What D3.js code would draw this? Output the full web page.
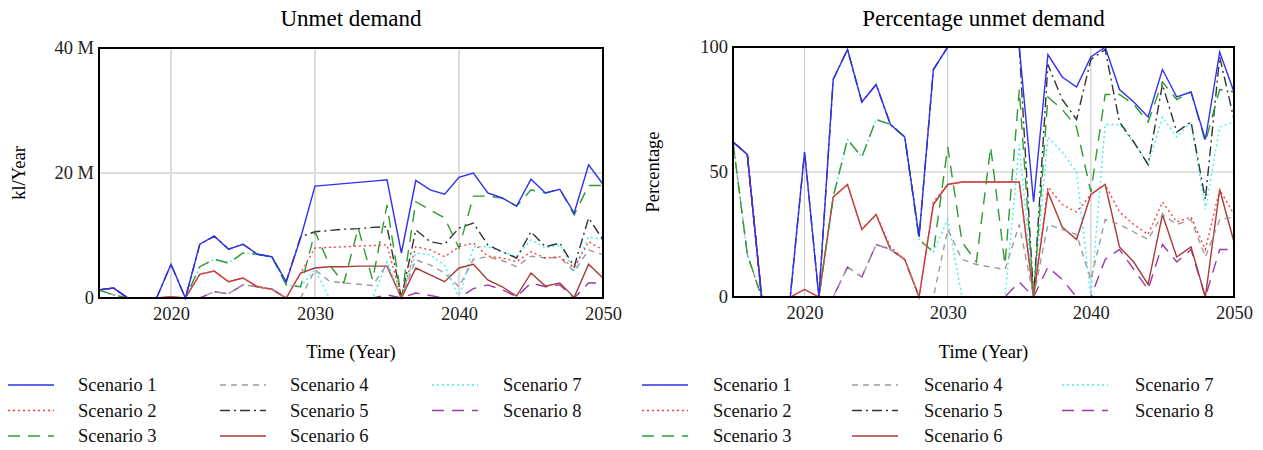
<!DOCTYPE html>
<html>
<head>
<meta charset="utf-8">
<script src="https://cdn.jsdelivr.net/npm/d3@7"></script>
<style>
  body { margin: 0; background: #fff; }
  svg { display: block; }
  svg text { font-family: "Liberation Serif", "Times New Roman", serif; }
</style>
</head>
<body>
<div id="chart"></div>
<script>
var years = [2015, 2016, 2017, 2018, 2019, 2020, 2021, 2022, 2023, 2024, 2025, 2026,
             2027, 2028, 2029, 2030, 2031, 2032, 2033, 2034, 2035, 2036, 2037, 2038,
             2039, 2040, 2041, 2042, 2043, 2044, 2045, 2046, 2047, 2048, 2049, 2050];

var scenarios = ['Scenario 1', 'Scenario 2', 'Scenario 3', 'Scenario 4',
                 'Scenario 5', 'Scenario 6', 'Scenario 7', 'Scenario 8'];

// unmet demand, million kl/Year
var unmet1 = [1.3,1.6,0,0,0,5.4,0,8.6,9.9,7.8,8.6,7.0,6.6,2.6,9.6,17.9,18.1,18.3,18.5,18.7,18.9,7.2,18.8,17.3,16.6,19.3,20.0,16.8,16.0,14.7,19.0,16.8,17.4,13.6,21.3,18.2];
var unmet2 = [1.3,1.6,0,0,0,0.2,0,3.8,4.3,2.6,3.2,1.8,1.4,0,4.0,8.0,8.1,8.2,8.3,8.4,8.5,0,8.2,7.7,6.6,8.2,8.8,6.7,6.4,5.8,7.4,6.4,6.6,4.8,9.0,7.7];
var unmet3 = [1.3,0.5,0,0,0,0,0,5.0,6.2,5.6,7.2,7.0,6.6,2.1,1.8,10.6,5.3,2.4,11.2,2.9,14.9,0,15.4,14.1,12.8,8.0,16.3,16.3,16.0,14.7,17.3,16.8,17.4,13.3,18.0,18.0];
var unmet4 = [1.3,0.5,0,0,0,0,0,0,1.0,0.7,2.1,1.8,1.4,0,0,4.5,2.7,2.4,2.2,2.0,5.4,0,6.1,5.3,4.0,1.8,6.2,6.6,6.0,5.0,6.7,6.4,6.5,4.2,7.7,6.9];
var unmet5 = [1.3,1.6,0,0,0,5.4,0,8.6,9.9,7.8,8.6,7.0,6.6,2.6,9.8,10.6,10.8,11.0,11.1,11.3,11.4,0,10.9,9.0,8.6,11.2,12.0,8.5,7.4,6.4,10.6,8.2,8.8,5.0,12.8,9.3];
var unmet6 = [1.3,1.6,0,0,0,0.2,0,3.8,4.3,2.6,3.2,1.8,1.4,0,4.0,4.8,5.0,5.0,5.1,5.1,5.1,0,4.8,3.7,2.6,4.8,5.4,2.9,1.8,0.3,4.0,1.9,2.4,0.1,5.4,3.2];
var unmet7 = [1.3,0.5,0,0,0,0,0,5.0,6.2,5.6,7.2,7.0,6.6,2.1,1.8,4.5,0,0,0,0,5.8,0,7.2,6.9,5.3,0,8.2,8.2,7.4,6.6,9.3,8.0,8.5,4.5,9.8,9.3];
var unmet8 = [1.3,1.6,0,0,0,0,0,0,1.0,0.7,2.1,1.8,1.4,0,0,0,0,0,0,0,0.5,0,0.8,0.4,0,0,1.5,2.1,1.3,0.2,2.4,1.8,2.1,0,2.4,2.4];

// percentage unmet demand
var pct1 = [62,57,0,0,0,58,0,87,99,78,85,69,64,24,91,100,100,100,100,100,100,38,97,88,84,96,100,83,78,72,91,80,82,63,98,82];
var pct2 = [62,57,0,0,0,3,0,40,45,27,33,20,15,0,38,45,46,46,46,46,46,0,44,37,34,41,45,34,29,25,38,30,32,19,43,33];
var pct3 = [62,17,0,0,0,0,0,40,63,56,71,69,64,23,18,60,22,14,60,13,83,0,80,75,68,42,81,81,77,70,86,79,82,62,83,82];
var pct4 = [62,17,0,0,0,0,0,0,12,8,21,19,15,0,0,27,15,13,12,11,29,0,29,27,25,7,31,29,26,23,33,29,31,16,31,32];
var pct5 = [62,57,0,0,0,58,0,87,99,78,85,69,64,24,91,100,100,100,100,100,100,0,93,79,71,95,99,70,62,53,85,66,70,39,96,71];
var pct6 = [62,57,0,0,0,3,0,40,45,27,33,19,15,0,37,45,46,46,46,46,46,0,42,28,23,41,45,20,14,5,33,16,20,0,43,22];
var pct7 = [62,17,0,0,0,0,0,40,63,56,71,69,64,23,18,31,0,0,0,0,61,0,64,58,50,0,69,69,62,53,72,64,70,35,68,70];
var pct8 = [62,57,0,0,0,0,0,0,12,8,21,19,15,0,0,0,0,0,0,0,6,0,12,7,0,0,15,19,11,3,21,14,19,0,19,19];

var xTicks = [2020, 2030, 2040, 2050];
var unmetTicks = [0, 20, 40];
var pctTicks = [0, 50, 100];

var colors = ['#3030f0', '#ff3b3b', '#2f9a2f', '#9a9a9a', '#333333', '#a83a3a', '#3ff0f0', '#9a3aa8'];
var dashes = [null, '2,3', '12,8', '6,5', '10,4,2,4', null, '2,3', '12,8'];

var width = 1263;
var height = 450;
var serif = '"Liberation Serif", "Times New Roman", serif';
var labelSize = '18.5px';

var svg = d3.select('#chart').append('svg')
    .attr('width', width)
    .attr('height', height);

drawPanel({
    left: 99, right: 603, top: 48, bottom: 298,
    title: 'Unmet demand', yTitle: 'kl/Year', yTitleX: 19,
    series: [unmet1, unmet2, unmet3, unmet4, unmet5, unmet6, unmet7, unmet8],
    yMax: 40, yTicks: unmetTicks,
    fmt: function(d) { return d === 0 ? '0' : d + ' M'; },
    gridColor: '#dcdcdc', gridWidth: 2,
    legendX: [8, 220, 432], legendTextX: [78, 290, 503]
});

drawPanel({
    left: 733, right: 1234, top: 47, bottom: 297,
    title: 'Percentage unmet demand', yTitle: 'Percentage', yTitleX: 653,
    series: [pct1, pct2, pct3, pct4, pct5, pct6, pct7, pct8],
    yMax: 100, yTicks: pctTicks,
    fmt: function(d) { return String(d); },
    gridColor: '#c4c4c4', gridWidth: 1,
    legendX: [642, 852, 1062], legendTextX: [713, 924, 1135]
});

function drawPanel(cfg) {
    var x = d3.scaleLinear().domain([2015, 2050]).range([cfg.left, cfg.right]);
    var y = d3.scaleLinear().domain([0, cfg.yMax]).range([cfg.bottom, cfg.top]);
    var g = svg.append('g');

    // grid
    g.selectAll('line.vgrid')
        .data(xTicks.filter(function(t) { return t < 2050; }))
        .enter().append('line')
        .attr('x1', function(d) { return x(d); })
        .attr('x2', function(d) { return x(d); })
        .attr('y1', cfg.top).attr('y2', cfg.bottom)
        .attr('stroke', cfg.gridColor).attr('stroke-width', cfg.gridWidth);
    g.selectAll('line.hgrid')
        .data(cfg.yTicks.slice(1, -1))
        .enter().append('line')
        .attr('x1', cfg.left).attr('x2', cfg.right)
        .attr('y1', function(d) { return y(d); })
        .attr('y2', function(d) { return y(d); })
        .attr('stroke', cfg.gridColor).attr('stroke-width', cfg.gridWidth);

    // lines, last scenario drawn first so scenario 1 sits on top
    var line = d3.line()
        .x(function(d, i) { return x(years[i]); })
        .y(function(d) { return y(d); });
    for (var s = cfg.series.length - 1; s >= 0; s--) {
        g.append('path')
            .datum(cfg.series[s])
            .attr('d', line)
            .attr('fill', 'none')
            .attr('stroke', colors[s])
            .attr('stroke-width', 1.4)
            .attr('stroke-dasharray', dashes[s]);
    }

    // frame
    g.append('rect')
        .attr('x', cfg.left).attr('y', cfg.top)
        .attr('width', cfg.right - cfg.left)
        .attr('height', cfg.bottom - cfg.top)
        .attr('fill', 'none')
        .attr('stroke', '#000')
        .attr('stroke-width', 2);

    // axes (labels only, ticks hidden)
    var xAxis = g.append('g')
        .attr('transform', 'translate(0,' + cfg.bottom + ')')
        .call(d3.axisBottom(x).tickValues(xTicks).tickFormat(d3.format('d')).tickSize(0).tickPadding(9));
    var yAxis = g.append('g')
        .attr('transform', 'translate(' + cfg.left + ',0)')
        .call(d3.axisLeft(y).tickValues(cfg.yTicks).tickFormat(cfg.fmt).tickSize(0).tickPadding(5));
    [xAxis, yAxis].forEach(function(a) {
        a.attr('font-family', null).attr('font-size', null);
        a.select('.domain').remove();
        a.selectAll('text')
            .style('font-family', serif)
            .style('font-size', labelSize)
            .attr('fill', '#222');
    });

    var cx = (cfg.left + cfg.right) / 2;
    g.append('text')
        .attr('x', cx).attr('y', 26)
        .attr('text-anchor', 'middle')
        .style('font-family', serif).style('font-size', '23px')
        .text(cfg.title);
    g.append('text')
        .attr('x', cx).attr('y', 358)
        .attr('text-anchor', 'middle')
        .style('font-family', serif).style('font-size', labelSize)
        .text('Time (Year)');
    g.append('text')
        .attr('transform', 'translate(' + cfg.yTitleX + ',' + ((cfg.top + cfg.bottom) / 2) + ') rotate(-90)')
        .attr('text-anchor', 'middle')
        .attr('dy', '0.35em')
        .style('font-family', serif).style('font-size', labelSize)
        .text(cfg.yTitle);

    // legend, 3 columns x 3 rows
    for (var k = 0; k < scenarios.length; k++) {
        var col = Math.floor(k / 3);
        var row = k % 3;
        var ly = 385 + row * 25.5;
        g.append('line')
            .attr('x1', cfg.legendX[col]).attr('x2', cfg.legendX[col] + 46)
            .attr('y1', ly).attr('y2', ly)
            .attr('stroke', colors[k])
            .attr('stroke-width', 1.4)
            .attr('stroke-dasharray', dashes[k]);
        g.append('text')
            .attr('x', cfg.legendTextX[col]).attr('y', ly)
            .attr('dy', '0.35em')
            .style('font-family', serif).style('font-size', labelSize)
            .attr('fill', '#111')
            .text(scenarios[k]);
    }
}
</script>
</body>
</html>
